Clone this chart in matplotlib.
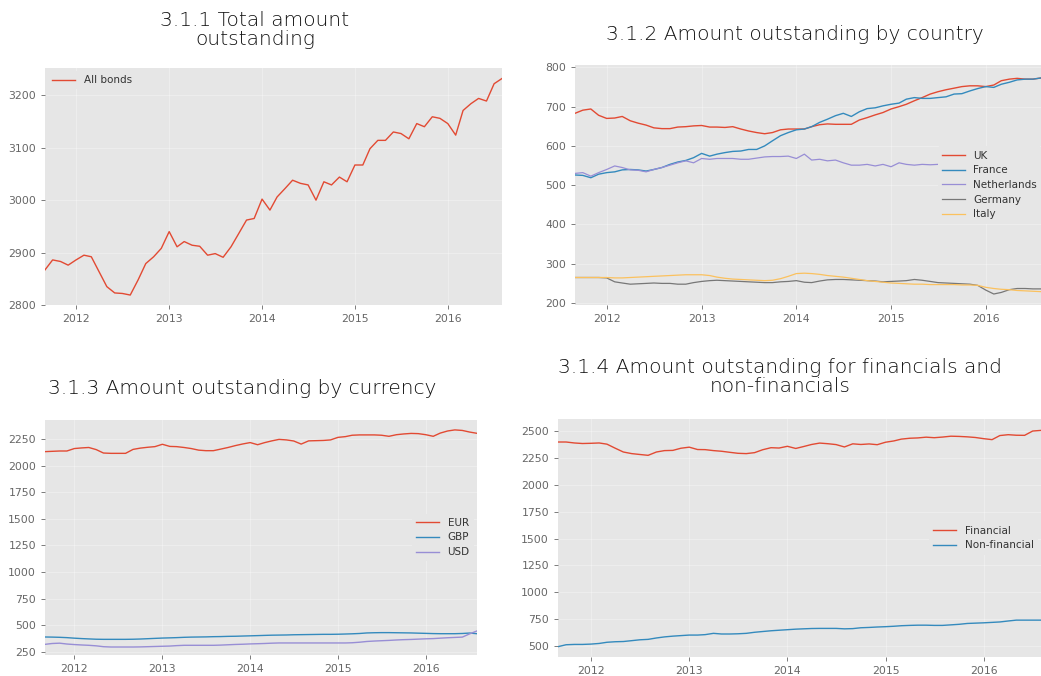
import matplotlib
matplotlib.use("Agg")
import matplotlib.pyplot as plt
import matplotlib.dates as mdates
import pandas as pd
import numpy as np

plt.style.use("ggplot")

dates = pd.date_range("2011-09-01", periods=60, freq="MS")

all_bonds = [2867, 2886, 2883, 2876, 2886, 2895, 2892, 2863, 2835, 2823,
             2822, 2819, 2848, 2879, 2892, 2908, 2940, 2911, 2921, 2914,
             2912, 2895, 2898, 2891, 2911, 2936, 2962, 2965, 3002, 2981,
             3006, 3022, 3038, 3032, 3029, 3000, 3035, 3029, 3044, 3035,
             3067, 3067, 3098, 3114, 3114, 3130, 3127, 3117, 3146, 3140,
             3159, 3156, 3146, 3124, 3171, 3184, 3194, 3189, 3222, 3232]

uk = [683, 691, 694, 678, 670, 671, 675, 664, 658, 653,
      646, 644, 644, 648, 649, 651, 652, 648, 648, 647,
      649, 643, 638, 634, 631, 634, 641, 643, 643, 643,
      649, 654, 656, 655, 655, 655, 666, 672, 679, 685,
      694, 700, 706, 715, 723, 732, 738, 743, 747, 751,
      753, 753, 751, 755, 766, 770, 772, 770, 770, 773]
france = [526, 525, 519, 528, 532, 534, 539, 540, 539, 536,
          540, 545, 553, 559, 563, 570, 581, 574, 579, 583,
          586, 587, 591, 591, 600, 613, 626, 634, 641, 643,
          649, 660, 668, 677, 683, 675, 687, 695, 697, 702,
          706, 709, 719, 723, 721, 721, 723, 725, 732, 733,
          740, 746, 751, 749, 757, 762, 768, 770, 770, 773]
netherlands = [530, 532, 523, 532, 540, 549, 545, 539, 538, 534,
               540, 545, 551, 557, 562, 557, 568, 566, 568, 568,
               568, 566, 566, 569, 572, 573, 573, 574, 568, 579,
               564, 566, 562, 564, 557, 551, 551, 553, 549, 553,
               547, 557, 553, 551, 553, 552, 553, 553, 553, 552,
               550, 551, 550, 552, 550, 549, 551, 550, 548, 549]
germany = [265, 265, 265, 265, 264, 254, 251, 248, 249, 250,
           251, 250, 250, 248, 248, 252, 255, 257, 258, 257,
           256, 255, 254, 253, 252, 252, 254, 255, 257, 253,
           252, 256, 259, 260, 260, 259, 258, 257, 256, 254,
           255, 256, 257, 260, 258, 255, 252, 251, 250, 249,
           248, 245, 233, 223, 227, 234, 237, 237, 236, 236]
italy = [265, 265, 265, 265, 265, 264, 264, 265, 266, 267,
         268, 269, 270, 271, 272, 272, 272, 270, 266, 263,
         261, 260, 259, 258, 257, 258, 262, 268, 275, 276,
         275, 273, 270, 268, 266, 263, 260, 257, 255, 253,
         251, 250, 249, 248, 248, 247, 247, 247, 247, 246,
         246, 245, 240, 237, 235, 234, 232, 231, 230, 229]

eur = [2131, 2134, 2137, 2137, 2160, 2166, 2170, 2150, 2118, 2115,
       2115, 2115, 2152, 2164, 2172, 2178, 2200, 2180, 2178, 2170,
       2160, 2145, 2140, 2140, 2155, 2170, 2188, 2203, 2216, 2196,
       2215, 2232, 2246, 2241, 2231, 2202, 2232, 2234, 2236, 2241,
       2265, 2272, 2285, 2288, 2288, 2288, 2285, 2275, 2290, 2297,
       2302, 2300, 2290, 2275, 2305, 2325, 2335, 2330, 2315, 2303]
gbp = [391, 390, 388, 385, 380, 376, 373, 370, 369, 369,
       369, 369, 370, 372, 375, 378, 381, 383, 385, 388,
       390, 391, 392, 394, 395, 397, 398, 400, 402, 404,
       406, 408, 409, 410, 412, 413, 414, 415, 416, 416,
       417, 419, 421, 424, 429, 431, 432, 432, 431, 430,
       429, 427, 425, 423, 422, 422, 422, 424, 428, 422]
usd = [322, 330, 333, 325, 320, 316, 313, 308, 300, 297,
       297, 297, 297, 298, 300, 302, 304, 306, 310, 313,
       313, 313, 313, 313, 315, 318, 321, 323, 326, 328,
       330, 333, 335, 335, 335, 335, 335, 335, 335, 335,
       335, 335, 337, 342, 349, 353, 356, 359, 363, 366,
       368, 371, 374, 376, 380, 384, 387, 390, 420, 448]

financial = [2398, 2398, 2389, 2384, 2386, 2389, 2378, 2340, 2305, 2290,
             2282, 2274, 2305, 2318, 2320, 2340, 2350, 2328, 2327, 2318,
             2312, 2302, 2293, 2290, 2299, 2326, 2345, 2342, 2358, 2338,
             2355, 2375, 2388, 2382, 2374, 2352, 2381, 2375, 2380, 2373,
             2396, 2408, 2425, 2433, 2436, 2443, 2438, 2444, 2452, 2450,
             2446, 2440, 2429, 2420, 2458, 2466, 2461, 2460, 2500, 2506]
non_financial = [494, 512, 515, 515, 518, 524, 535, 540, 542, 550,
                 558, 562, 575, 585, 592, 597, 602, 602, 606, 618,
                 612, 612, 614, 618, 628, 635, 642, 647, 652, 657,
                 660, 663, 664, 664, 664, 660, 662, 670, 673, 677,
                 680, 684, 689, 692, 694, 694, 692, 692, 697, 702,
                 710, 713, 716, 720, 724, 733, 741, 741, 741, 741]

titles = ["3.1.1 Total amount\noutstanding",
          "3.1.2 Amount outstanding by country",
          "3.1.3 Amount outstanding by currency",
          "3.1.4 Amount outstanding for financials and\nnon-financials"]

RED, BLUE, PURPLE, GRAY, YELLOW = "#E24A33", "#348ABD", "#988ED5", "#777777", "#FBC15E"

W, H = 1041, 676
fig = plt.figure(figsize=(W / 100, H / 100), dpi=100)
fig.patch.set_facecolor("white")


def px_axes(l, r, t, b):
    return fig.add_axes([l / W, 1 - b / H, (r - l) / W, (b - t) / H])


def style(ax, ylim, yticks):
    ax.set_facecolor("#E6E6E6")
    ax.grid(True, color="white", linewidth=0.8, alpha=0.3)
    ax.set_xlim(dates[0], dates[-1])
    ax.set_ylim(*ylim)
    ax.set_yticks(yticks)
    ax.xaxis.set_major_locator(mdates.YearLocator())
    ax.xaxis.set_major_formatter(mdates.DateFormatter("%Y"))
    ax.xaxis.set_minor_locator(matplotlib.ticker.NullLocator())
    ax.tick_params(axis="both", labelsize=7.8, colors="#666666", length=3, width=0.6)
    for s in ax.spines.values():
        s.set_visible(False)


def legend(ax, loc, **kw):
    lg = ax.legend(loc=loc, fontsize=7.5, frameon=True, facecolor="#E6E6E6",
                   edgecolor="none", framealpha=1.0, handlelength=2.2,
                   labelspacing=0.45, **kw)
    for t in lg.get_texts():
        t.set_color("#333333")


# Panel 1
ax1 = px_axes(45, 502, 68, 305)
ax1.plot(dates, all_bonds, color=RED, lw=1.0, label="All bonds")
style(ax1, (2800, 3252), [2800, 2900, 3000, 3100, 3200])
legend(ax1, "upper left", borderaxespad=0.3)

# Panel 2
ax2 = px_axes(575, 1041, 65, 305)
ax2.plot(dates, uk, color=RED, lw=1.0, label="UK")
ax2.plot(dates, france, color=BLUE, lw=1.0, label="France")
ax2.plot(dates, netherlands, color=PURPLE, lw=0.9, label="Netherlands")
ax2.plot(dates, germany, color=GRAY, lw=0.9, label="Germany")
ax2.plot(dates, italy, color=YELLOW, lw=0.9, label="Italy")
style(ax2, (195, 806), [200, 300, 400, 500, 600, 700, 800])
legend(ax2, "center right", borderaxespad=0.0)

# Panel 3
ax3 = px_axes(45, 477, 420, 655)
ax3.plot(dates, eur, color=RED, lw=1.0, label="EUR")
ax3.plot(dates, gbp, color=BLUE, lw=1.0, label="GBP")
ax3.plot(dates, usd, color=PURPLE, lw=1.0, label="USD")
style(ax3, (222, 2428), [250, 500, 750, 1000, 1250, 1500, 1750, 2000, 2250])
legend(ax3, "center right", borderaxespad=0.3)

# Panel 4
ax4 = px_axes(558, 1041, 419, 657)
ax4.plot(dates, financial, color=RED, lw=1.0, label="Financial")
ax4.plot(dates, non_financial, color=BLUE, lw=1.0, label="Non-financial")
style(ax4, (398, 2612), [500, 750, 1000, 1250, 1500, 1750, 2000, 2250, 2500])
legend(ax4, "center right", borderaxespad=0.3)

tkw = dict(fontsize=14.5, family=["DejaVu Sans"], fontweight=200,
           color="#111111", ha="center", va="center", linespacing=1.05)
fig.text(255 / W, 1 - 30 / H, titles[0], **tkw)
fig.text(795 / W, 1 - 35 / H, titles[1], **tkw)
fig.text(242 / W, 1 - 389 / H, titles[2], **tkw)
fig.text(780 / W, 1 - 377 / H, titles[3], **tkw)

fig.savefig("out.png", dpi=100, facecolor="white")
